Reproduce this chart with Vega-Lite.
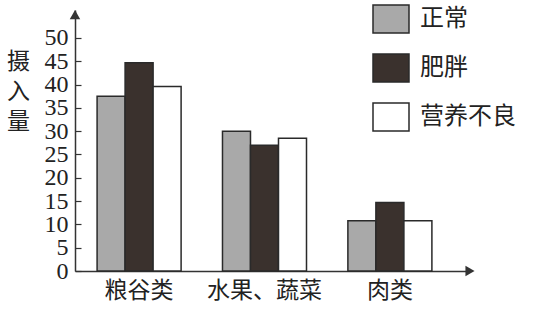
{
  "$schema": "https://vega.github.io/schema/vega-lite/v6.json",
  "autosize": "none",
  "width": 395,
  "height": 261,
  "padding": {"left": 75, "top": 10, "right": 75, "bottom": 39},
  "background": "#ffffff",
  "config": {
    "view": {"stroke": null},
    "font": "Noto Sans CJK SC"
  },
  "datasets": {
    "intake": [
      {"food": "粮谷类", "group": "正常", "value": 37.5},
      {"food": "粮谷类", "group": "肥胖", "value": 44.7},
      {"food": "粮谷类", "group": "营养不良", "value": 39.6},
      {"food": "水果、蔬菜", "group": "正常", "value": 30},
      {"food": "水果、蔬菜", "group": "肥胖", "value": 27},
      {"food": "水果、蔬菜", "group": "营养不良", "value": 28.5},
      {"food": "肉类", "group": "正常", "value": 10.8},
      {"food": "肉类", "group": "肥胖", "value": 14.7},
      {"food": "肉类", "group": "营养不良", "value": 10.8}
    ],
    "arrows": [
      {"ax": 0, "ay": 55, "dir": "up"},
      {"ax": 1, "ay": 0, "dir": "right"}
    ]
  },
  "resolve": {"scale": {"x": "independent"}, "axis": {"y": "independent"}},
  "layer": [
    {
      "data": {"name": "intake"},
      "mark": {"type": "bar", "stroke": "#2a2a2a", "strokeWidth": 1.5},
      "encoding": {
        "x": {
          "field": "food",
          "type": "nominal",
          "sort": ["粮谷类", "水果、蔬菜", "肉类"],
          "scale": {"paddingInner": 0.33, "paddingOuter": 0.24, "align": 0.367},
          "axis": {
            "title": null,
            "ticks": false,
            "labelAngle": 0,
            "labelFont": "Noto Sans CJK SC",
            "labelFontSize": 23,
            "labelColor": "#222222",
            "labelPadding": 8,
            "domainColor": "#333333",
            "domainWidth": 1.5
          }
        },
        "xOffset": {
          "field": "group",
          "type": "nominal",
          "sort": ["正常", "肥胖", "营养不良"],
          "scale": {"paddingInner": 0, "paddingOuter": 0}
        },
        "y": {
          "field": "value",
          "type": "quantitative",
          "scale": {"domain": [0, 56], "nice": false},
          "axis": {
            "values": [0, 5, 10, 15, 20, 25, 30, 35, 40, 45, 50],
            "grid": false,
            "tickSize": -6,
            "tickColor": "#333333",
            "tickWidth": 1.2,
            "labelOverlap": false,
            "labelFlush": false,
            "labelPadding": 13,
            "labelFont": "Liberation Serif",
            "labelFontSize": 24,
            "labelColor": "#222222",
            "labelBaseline": "middle",
            "domainColor": "#333333",
            "domainWidth": 1.5,
            "title": ["摄", "入", "量"],
            "titleAngle": 0,
            "titleFont": "Noto Sans CJK SC",
            "titleFontSize": 23,
            "titleFontWeight": "normal",
            "titleColor": "#222222",
            "titleLineHeight": 30,
            "titleAlign": "center",
            "titleBaseline": "top",
            "titleX": -57,
            "titleY": 40
          }
        },
        "fill": {
          "field": "group",
          "type": "nominal",
          "sort": ["正常", "肥胖", "营养不良"],
          "scale": {
            "domain": ["正常", "肥胖", "营养不良"],
            "range": ["#a9a9a9", "#3a312d", "#ffffff"]
          },
          "legend": {
            "title": null,
            "orient": "none",
            "legendX": 297,
            "legendY": -10,
            "symbolType": "M-1,-0.78H1V0.78H-1Z",
            "symbolSize": 1296,
            "symbolStrokeColor": "#2a2a2a",
            "symbolStrokeWidth": 1.5,
            "symbolOpacity": 1,
            "labelFont": "Noto Sans CJK SC",
            "labelFontSize": 24,
            "labelColor": "#222222",
            "labelOffset": 10,
            "rowPadding": 12,
            "labelLimit": 200
          }
        }
      }
    },
    {
      "data": {"name": "arrows"},
      "mark": {"type": "point", "filled": true, "opacity": 1, "size": 110, "color": "#333333"},
      "encoding": {
        "x": {
          "field": "ax",
          "type": "quantitative",
          "scale": {"domain": [0, 1], "nice": false, "zero": false},
          "axis": null
        },
        "y": {"field": "ay", "type": "quantitative", "axis": null},
        "shape": {
          "field": "dir",
          "type": "nominal",
          "scale": {"domain": ["up", "right"], "range": ["triangle-up", "triangle-right"]},
          "legend": null
        }
      }
    }
  ]
}
